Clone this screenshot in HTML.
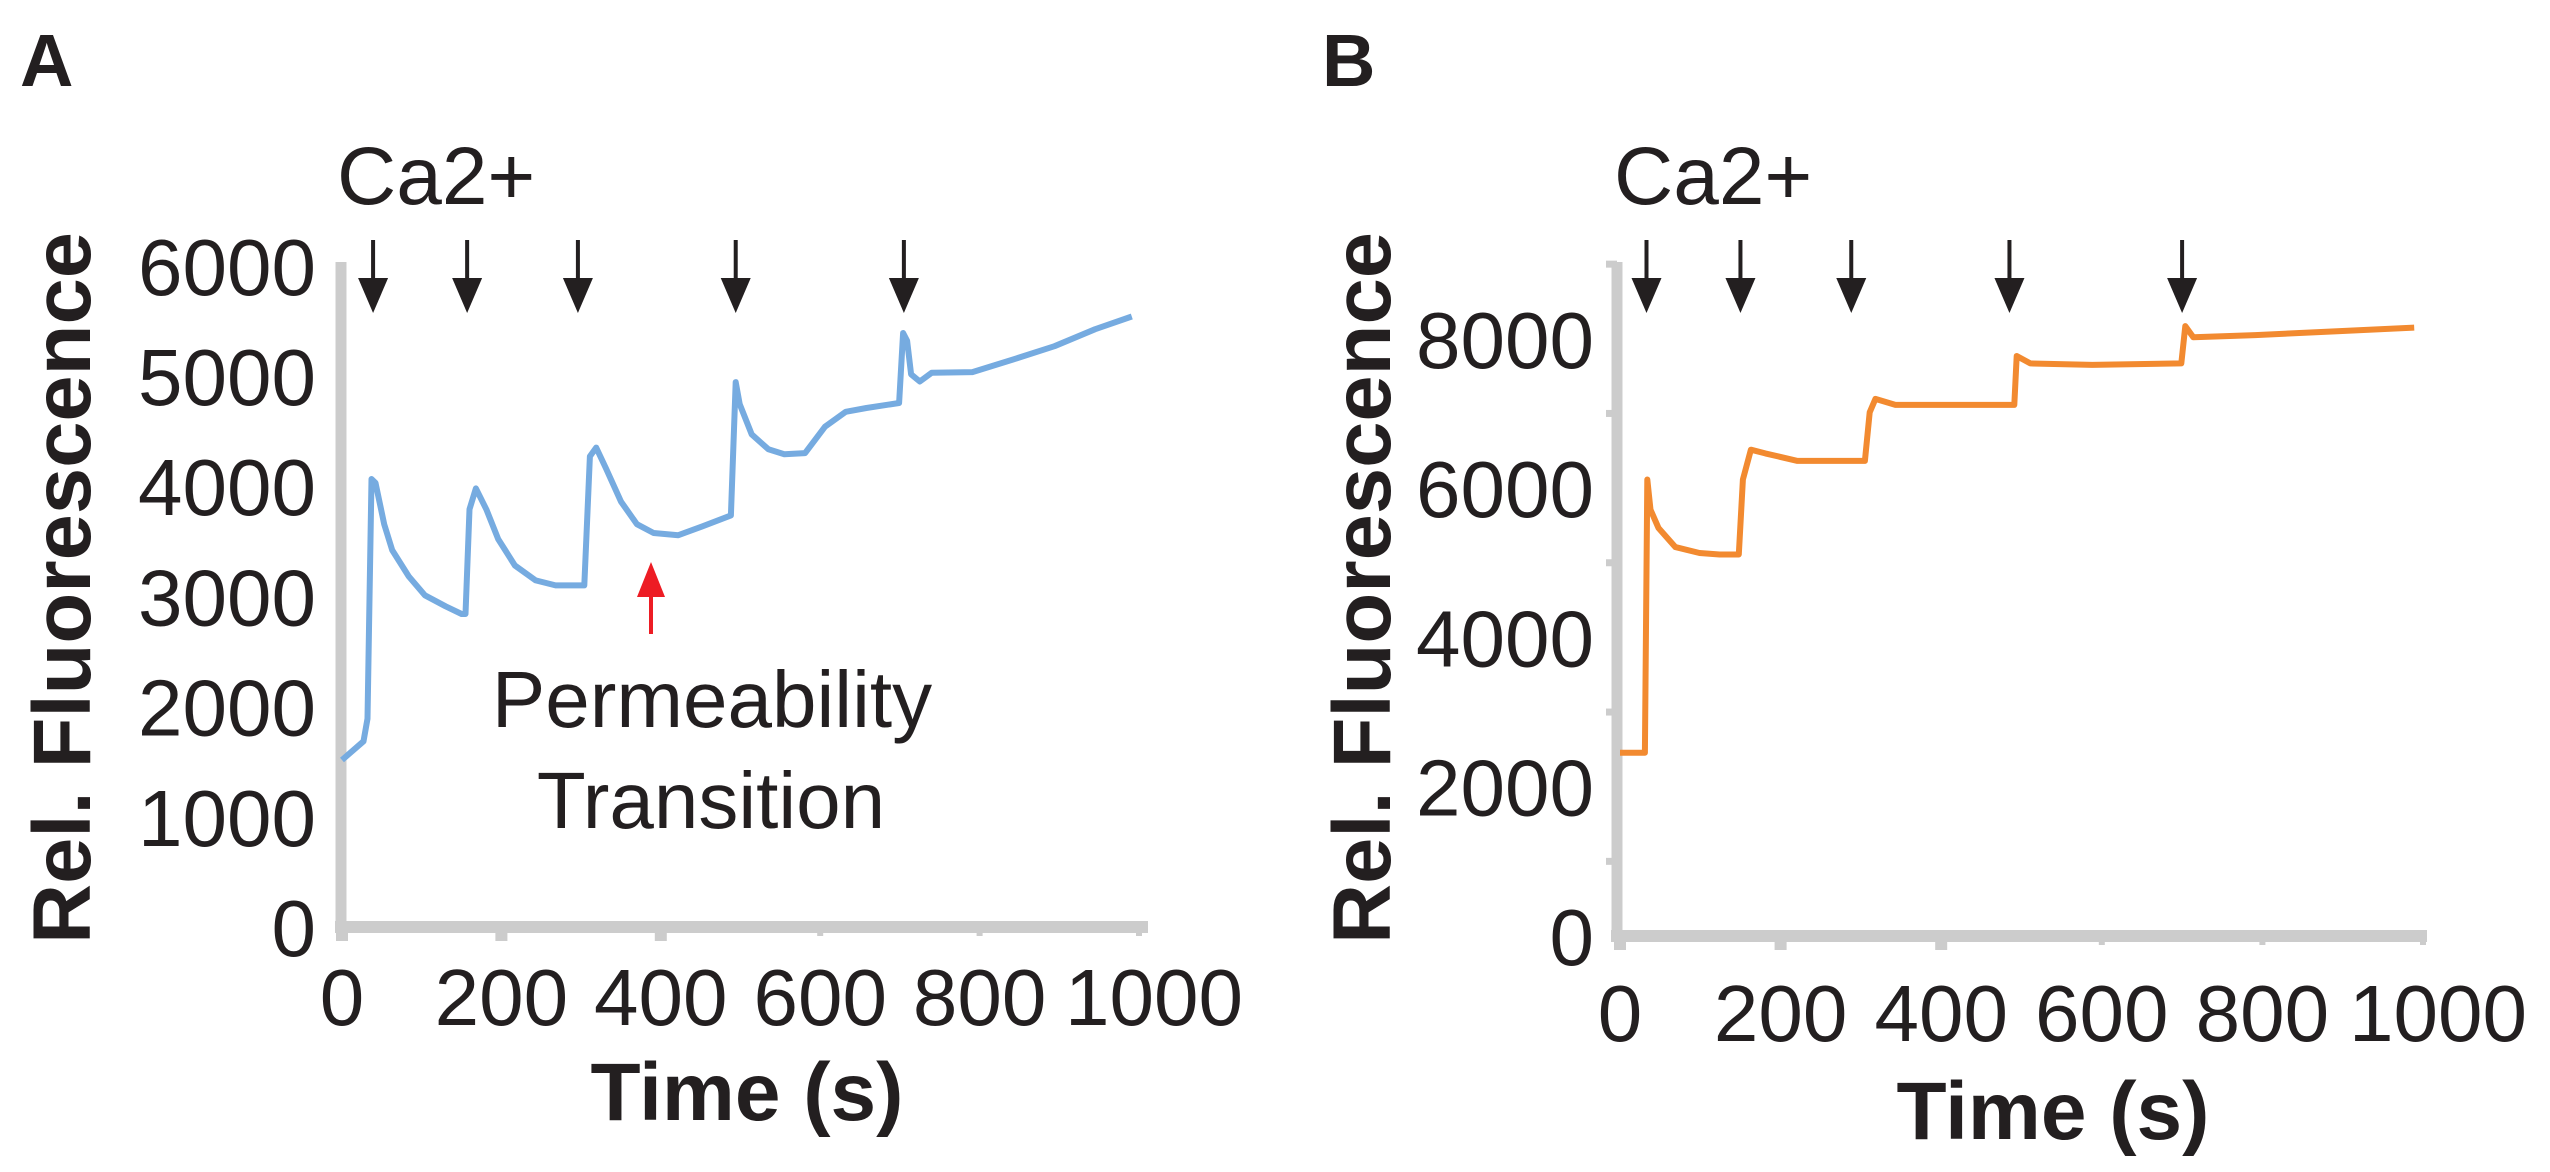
<!DOCTYPE html>
<html><head><meta charset="utf-8"><style>
html,body{margin:0;padding:0;background:#fff;}
svg{display:block;}
text{font-family:"Liberation Sans",Arial,sans-serif;fill:#231f20;}
</style></head><body>
<svg id="fig" width="2550" height="1172" viewBox="0 0 2550 1172" xmlns="http://www.w3.org/2000/svg">
<text x="20" y="86" font-size="74" font-weight="bold">A</text>
<text x="1322" y="86" font-size="74" font-weight="bold">B</text>
<text x="337" y="204" font-size="82">Ca2+</text>
<text x="1614" y="204" font-size="82">Ca2+</text>
<text x="712" y="727" font-size="80" text-anchor="middle">Permeability</text>
<text x="711" y="828" font-size="80" text-anchor="middle">Transition</text>
<g>
<line x1="651" y1="634" x2="651" y2="590" stroke="#ed1c24" stroke-width="4"/>
<polygon points="651,562 637,597 665,597" fill="#ed1c24"/>
</g>
<g id="pa"></g>
<g id="pb"></g>
</svg>
<script>
const aX=[0,27,32,37,42,53,63,84,104,130,150,155,160,168,181,196,217,243,268,304,311,319,331,350,370,391,422,452,488,494,499,514,535,555,581,606,632,658,699,704,709,714,725,740,791,842,894,945,991];
const aY=[1515,1685,1890,4065,4030,3655,3420,3180,3010,2910,2840,2840,3790,3980,3790,3520,3280,3145,3100,3100,4270,4350,4165,3860,3655,3575,3555,3635,3735,4945,4745,4470,4335,4290,4300,4540,4675,4710,4755,5390,5320,5015,4950,5030,5035,5150,5270,5425,5540];
const bX=[0,31,34,38,48,69,99,124,148,153,163,181,221,305,311,318,343,491,494,511,588,699,704,714,791,893,989];
const bY=[2455,2455,6115,5710,5465,5210,5130,5110,5110,6115,6515,6465,6365,6365,7015,7195,7115,7115,7770,7670,7650,7670,8170,8020,8050,8100,8150];
const aYTicks=[0,1000,2000,3000,4000,5000,6000];
const bYTicks=[0,2000,4000,6000,8000];
const xTicks=[0,200,400,600,800,1000];
const arrowsA=[39,157,296,494,705];
const arrowsB=[33,150,288,485,700];
const NS="http://www.w3.org/2000/svg";
function mk(p,tag,at){const e=document.createElementNS(NS,tag);for(const k in at)e.setAttribute(k,at[k]);p.appendChild(e);return e;}
function panel(g,cfg){
  const sx=v=>cfg.x0+v*cfg.kx, sy=v=>cfg.y0-v*cfg.ky;
  let e;
  e=mk(g,'line',{x1:cfg.axX,y1:cfg.top,x2:cfg.axX,y2:cfg.y0+6,stroke:'#cccccc','stroke-width':11});
  
  
  e=mk(g,'line',{x1:cfg.axX-6,y1:cfg.y0,x2:cfg.xEnd,y2:cfg.y0,stroke:'#cccccc','stroke-width':12});
  
  
  cfg.minor.forEach(v=>{e=mk(g,'line',{x1:cfg.axX-11,y1:sy(v),x2:cfg.axX,y2:sy(v),stroke:'#cccccc','stroke-width':7});
    
    });
  xTicks.forEach((v,i)=>{
    e=mk(g,'line',{x1:sx(v),y1:cfg.y0,x2:sx(v),y2:cfg.y0+(i<3?14:9),stroke:'#cccccc','stroke-width':(i<3?12:6)});
    
    
    const off=(i===xTicks.length-1)?15:0;
    e=mk(g,'text',{x:sx(v)+off,y:cfg.xlabY,'font-size':80,'text-anchor':'middle'});e.textContent=v;
    
    
  });
  cfg.yt.forEach(v=>{
    e=mk(g,'text',{x:cfg.ylabR,y:sy(v)+29,'font-size':80,'text-anchor':'end'});e.textContent=v;
    
    
  });
  e=mk(g,'text',{x:0,y:0,'font-size':82,'font-weight':'bold','text-anchor':'middle',transform:`translate(${cfg.ytX},588) rotate(-90)`,textLength:712,lengthAdjust:'spacingAndGlyphs'});
  e.textContent='Rel. Fluorescence';
  
  
  e=mk(g,'text',{x:cfg.xtX,y:cfg.xtY,'font-size':82,'font-weight':'bold','text-anchor':'middle'});
  e.textContent='Time (s)';
  
  
  cfg.arrows.forEach(v=>{
    const x=sx(v);
    const a=mk(g,'g',{});
    
    
    mk(a,'line',{x1:x,y1:240,x2:x,y2:290,stroke:'#231f20','stroke-width':4});
    mk(a,'polygon',{points:`${x-15},278 ${x+15},278 ${x},313`,fill:'#231f20'});
  });
  const d=cfg.xs.map((v,i)=>(i?'L':'M')+sx(v).toFixed(1)+','+sy(cfg.ys[i]).toFixed(1)).join(' ');
  e=mk(g,'path',{d:d,fill:'none',stroke:cfg.color,'stroke-width':6,'stroke-linejoin':'round'});
  
  
}
panel(document.getElementById('pa'),{x0:342,kx:0.797,y0:927,ky:0.1102,axX:341,top:262,xEnd:1148,
  minor:[],yt:aYTicks,ylabR:316,xlabY:1025,ytX:90,xtX:747,xtY:1120,arrows:arrowsA,xs:aX,ys:aY,color:'#76abe0'});
panel(document.getElementById('pb'),{x0:1620,kx:0.803,y0:936,ky:0.07465,axX:1617,top:262,xEnd:2427,
  minor:[1000,3000,5000,7000,9000],yt:bYTicks,ylabR:1594,xlabY:1041,ytX:1390,xtX:2053,xtY:1139,arrows:arrowsB,xs:bX,ys:bY,color:'#f28a30'});
</script>
</body></html>
